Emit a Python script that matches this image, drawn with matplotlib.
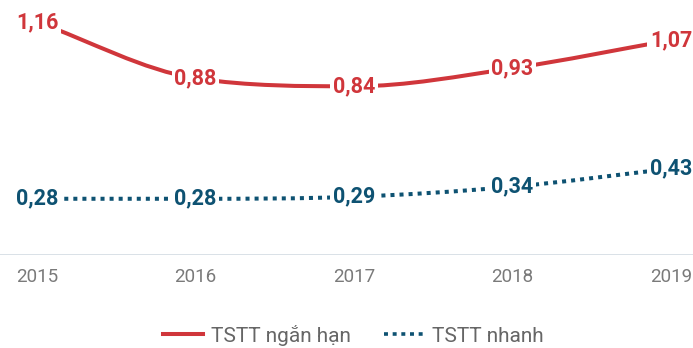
import numpy as np
import matplotlib.pyplot as plt
from matplotlib.path import Path
from matplotlib.patches import PathPatch
from matplotlib.lines import Line2D

years = [2015, 2016, 2017, 2018, 2019]
ngan_han = [1.16, 0.88, 0.84, 0.93, 1.07]
nhanh = [0.28, 0.28, 0.29, 0.34, 0.43]
year_labels = ["2015", "2016", "2017", "2018", "2019"]

RED = "#d0363b"
BLUE = "#0e5272"
GREY = "#7a7a7a"

plt.rcParams["font.family"] = ["Roboto", "DejaVu Sans"]


def monotone_path(x, y):
    # monotone cubic (Fritsch-Carlson) written as bezier segments
    x = np.asarray(x, float)
    y = np.asarray(y, float)
    h = np.diff(x)
    s = np.diff(y) / h
    m = np.zeros_like(y)
    m[0], m[-1] = s[0], s[-1]
    for i in range(1, len(x) - 1):
        if s[i - 1] * s[i] <= 0:
            m[i] = 0
        else:
            m[i] = (s[i - 1] * h[i] + s[i] * h[i - 1]) / (h[i - 1] + h[i])
            lim = 3 * min(abs(s[i - 1]), abs(s[i]))
            if abs(m[i]) > lim:
                m[i] = np.sign(m[i]) * lim
    verts = [(x[0], y[0])]
    codes = [Path.MOVETO]
    for i in range(len(x) - 1):
        d = h[i] / 3
        verts += [(x[i] + d, y[i] + m[i] * d),
                  (x[i + 1] - d, y[i + 1] - m[i + 1] * d),
                  (x[i + 1], y[i + 1])]
        codes += [Path.CURVE4] * 3
    return Path(verts, codes)


fig = plt.figure(figsize=(6.93, 3.48), dpi=100)
ax = fig.add_axes([0, 93 / 348, 1, 1 - 93 / 348 - 14 / 348])
ax.set_xlim(2014.766, 2019.139)
ax.set_ylim(0, 1.2)

ax.add_patch(PathPatch(monotone_path(years, ngan_han), fill=False,
                       edgecolor=RED, lw=2.9, capstyle="butt", zorder=2))
ax.add_patch(PathPatch(monotone_path(years, nhanh), fill=False,
                       edgecolor=BLUE, lw=2.9, linestyle=(0, (1.0, 1.25)),
                       capstyle="butt", zorder=2))

for series, color in [(ngan_han, RED), (nhanh, BLUE)]:
    for x, v in zip(years, series):
        ax.text(x, v, f"{v:.2f}".replace(".", ","), color=color,
                fontsize=15.5, fontweight="bold", ha="center", va="center",
                bbox=dict(boxstyle="square,pad=0.12", fc="white", ec="none"),
                zorder=3)

ax.axhline(0, color="#d3dbe3", lw=1.2, zorder=1)
for s in ax.spines.values():
    s.set_visible(False)
ax.set_yticks([])
ax.set_xticks(years)
ax.set_xticklabels(year_labels, color=GREY, fontsize=13.5)
ax.tick_params(axis="x", length=0, pad=9)

handles = [Line2D([], [], color=RED, lw=2.9),
           Line2D([], [], color=BLUE, lw=2.6, linestyle=(0, (1.1, 1.3)))]
leg = fig.legend(handles, ["TSTT ngắn hạn", "TSTT nhanh"], loc="center",
                 bbox_to_anchor=(0.51, 1 - 335 / 348), ncol=2, frameon=False,
                 fontsize=15, handlelength=1.9, handletextpad=0.4,
                 columnspacing=1.6, borderpad=0)
for t in leg.get_texts():
    t.set_color("#666666")

fig.savefig("out.png", dpi=100)
